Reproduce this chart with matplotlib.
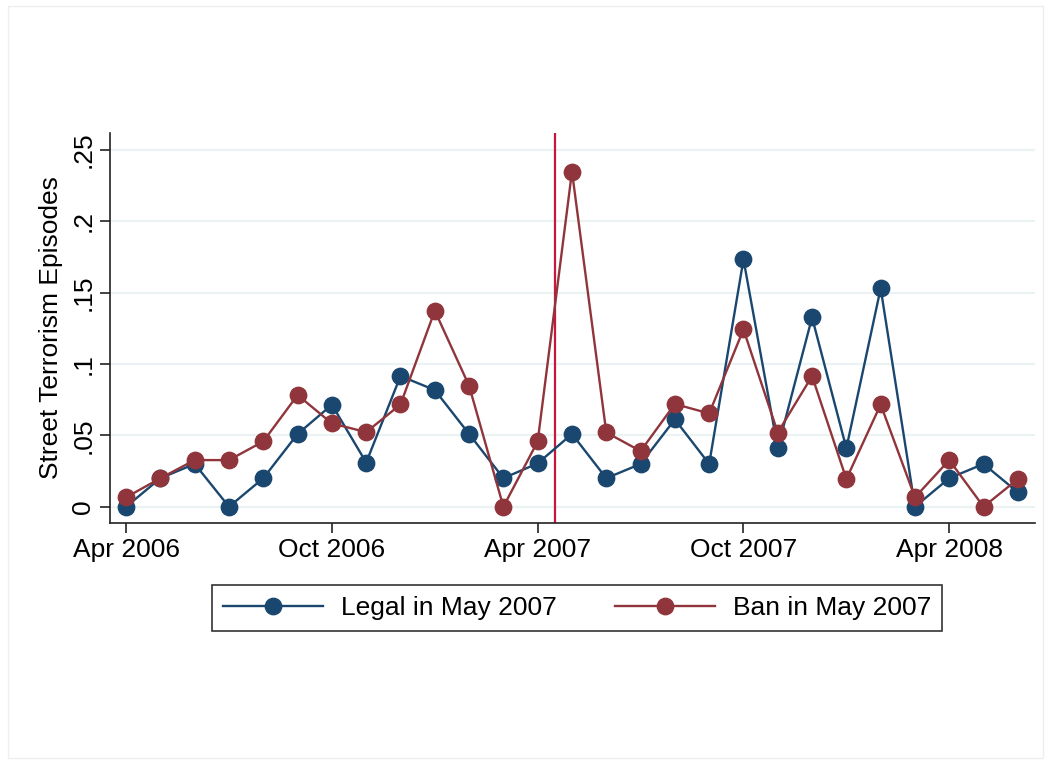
import matplotlib
matplotlib.use("Agg")
import matplotlib.pyplot as plt
from matplotlib.lines import Line2D
from matplotlib.patches import Rectangle

plt.rcParams['font.family'] = ['Liberation Sans', 'DejaVu Sans']

months = ["Apr 2006", "May 2006", "Jun 2006", "Jul 2006", "Aug 2006", "Sep 2006",
          "Oct 2006", "Nov 2006", "Dec 2006", "Jan 2007", "Feb 2007", "Mar 2007",
          "Apr 2007", "May 2007", "Jun 2007", "Jul 2007", "Aug 2007", "Sep 2007",
          "Oct 2007", "Nov 2007", "Dec 2007", "Jan 2008", "Feb 2008", "Mar 2008",
          "Apr 2008", "May 2008", "Jun 2008"]
legal = [0.0, 0.020, 0.030, 0.0, 0.020, 0.051, 0.0715, 0.031, 0.0916, 0.0818,
         0.051, 0.020, 0.0304, 0.051, 0.020, 0.030, 0.0612, 0.030, 0.1734, 0.041,
         0.1327, 0.041, 0.1531, 0.0, 0.020, 0.030, 0.0101]
ban = [0.0066, 0.020, 0.0327, 0.0327, 0.0458, 0.0783, 0.0584, 0.0523, 0.0717, 0.1374,
       0.0848, 0.0, 0.0458, 0.235, 0.0521, 0.039, 0.072, 0.0654, 0.1243, 0.052,
       0.0916, 0.0194, 0.0717, 0.0066, 0.0327, 0.0, 0.0194]
xtick_labels = ["Apr 2006", "Oct 2006", "Apr 2007", "Oct 2007", "Apr 2008"]
ytick_vals = [0, 0.05, 0.1, 0.15, 0.2, 0.25]
ytick_labels = ["0", ".05", ".1", ".15", ".2", ".25"]
event_month = 12.5  # between Apr 2007 and May 2007

blue = '#1a476f'
red = '#90353b'
vline_color = '#c8163f'

fig = plt.figure(figsize=(10.5, 7.67), dpi=100)
fig.patches.append(Rectangle((0.008, 0.012), 0.985, 0.98, transform=fig.transFigure,
                             fill=False, edgecolor='#eeeeee', linewidth=1))
ax = fig.add_axes([110/1050, 1-523/767, (1035-110)/1050, (523-133)/767])

x = list(range(len(months)))
ax.axvline(event_month, color=vline_color, lw=1.6, zorder=2)
ax.plot(x, legal, color=blue, lw=1.7, marker='o', ms=11.8, zorder=3,
        label='Legal in May 2007')
ax.plot(x, ban, color=red, lw=1.7, marker='o', ms=11.8, zorder=4,
        label='Ban in May 2007')

ax.set_xlim(-0.47, len(months) - 1 + 0.5)
ax.set_ylim(-0.0114, 0.262)
ax.set_yticks(ytick_vals)
ax.set_yticklabels(ytick_labels, rotation=90, va='center')
ax.set_xticks([months.index(m) for m in xtick_labels])
ax.set_xticklabels(xtick_labels)
ax.tick_params(labelsize=19, length=7, width=1.2, color='#222222')
for t in ax.get_yticklabels():
    t.set_verticalalignment('center')
ax.grid(axis='y', color='#eaf2f3', lw=1.6)
ax.set_axisbelow(True)
for s in ['top', 'right']:
    ax.spines[s].set_visible(False)
for s in ['left', 'bottom']:
    ax.spines[s].set_linewidth(1.2)
    ax.spines[s].set_color('#222222')
ax.set_ylabel('Street Terrorism Episodes', fontsize=19, labelpad=6)

handles = [Line2D([], [], color=blue, lw=1.7, marker='o', ms=11.8),
           Line2D([], [], color=red, lw=1.7, marker='o', ms=11.8)]
leg = fig.legend(handles, ['Legal in May 2007', 'Ban in May 2007'], ncol=2,
                 loc='center', bbox_to_anchor=(577/1050, 1-608/767),
                 fontsize=19, frameon=True, fancybox=False, edgecolor='black',
                 handlelength=3.8, columnspacing=2.2, borderpad=0.4,
                 handletextpad=0.68, borderaxespad=0)
leg.get_frame().set_linewidth(1.2)

fig.savefig('out.png', dpi=100, facecolor='white')
